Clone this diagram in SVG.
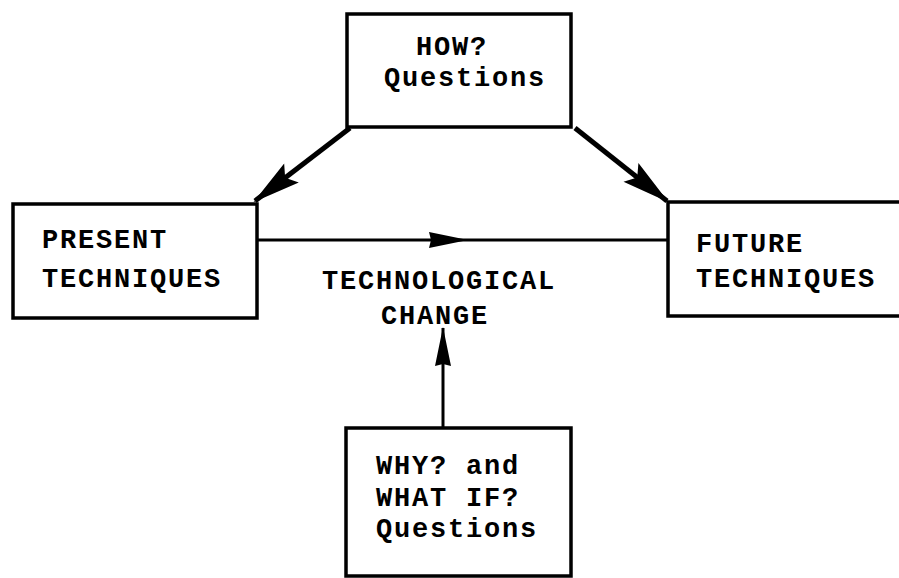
<svg xmlns="http://www.w3.org/2000/svg" width="899" height="578" viewBox="0 0 899 578">
  <style>
    .box { fill: #ffffff; stroke: #000000; stroke-width: 3.5; }
    .lbl { font-family: "Liberation Mono", "Courier New", monospace; font-weight: bold; font-size: 27px; letter-spacing: 1.8px; fill: #000000; }
    .wire { fill: none; stroke: #000000; stroke-width: 3; }
    .thick { stroke-width: 5; }
  </style>
  <defs>
    <marker id="bigHead" markerUnits="userSpaceOnUse" viewBox="-50 -15 55 30" refX="0" refY="0" markerWidth="55" markerHeight="30" orient="auto">
      <path d="M2,0 L-46,-12 L-38,0 L-46,12 Z" fill="#000000"/>
    </marker>
    <marker id="slimHead" markerUnits="userSpaceOnUse" viewBox="-45 -12 50 24" refX="0" refY="0" markerWidth="50" markerHeight="24" orient="auto">
      <path d="M1,0 L-38,-8 L-36,0 L-38,8 Z" fill="#000000"/>
    </marker>
  </defs>
  <rect width="899" height="578" fill="#ffffff"/>

  <g id="connectors">
    <path class="wire thick" d="M350,128 L255,201" marker-end="url(#bigHead)"/>
    <path class="wire thick" d="M575,128 L667,201" marker-end="url(#bigHead)"/>
    <path class="wire" d="M257,240 L467,240 L668,240" marker-mid="url(#slimHead)"/>
    <path class="wire" d="M443,428 L443,328" marker-end="url(#slimHead)"/>
  </g>

  <g id="how">
    <rect class="box" x="347" y="14" width="224" height="113"/>
    <text class="lbl" x="416" y="55">HOW?</text>
    <text class="lbl" x="384" y="86">Questions</text>
  </g>

  <g id="present">
    <rect class="box" x="13" y="204" width="244" height="114"/>
    <text class="lbl" x="42" y="248">PRESENT</text>
    <text class="lbl" x="42" y="287">TECHNIQUES</text>
  </g>

  <g id="future">
    <rect class="box" x="668" y="202" width="245" height="114"/>
    <text class="lbl" x="696" y="252">FUTURE</text>
    <text class="lbl" x="696" y="287">TECHNIQUES</text>
  </g>

  <g id="change">
    <text class="lbl" x="322" y="289">TECHNOLOGICAL</text>
    <text class="lbl" x="381" y="324">CHANGE</text>
  </g>

  <g id="why">
    <rect class="box" x="346" y="428" width="225" height="148"/>
    <text class="lbl" x="376" y="474">WHY? and</text>
    <text class="lbl" x="376" y="506">WHAT IF?</text>
    <text class="lbl" x="376" y="537">Questions</text>
  </g>
</svg>
